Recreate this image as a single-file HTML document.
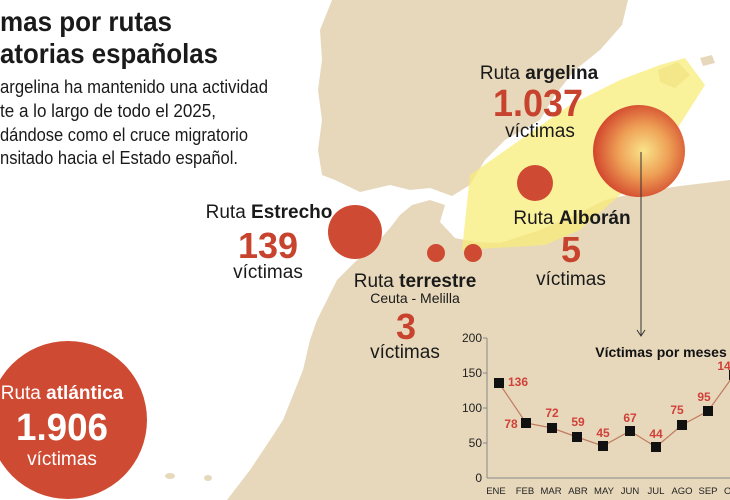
<!DOCTYPE html>
<html><head><meta charset="utf-8"><style>
html,body{margin:0;padding:0;background:#fff;}
svg{display:block;font-family:"Liberation Sans",sans-serif;}
</style></head><body>
<svg width="730" height="500" viewBox="0 0 730 500" xmlns="http://www.w3.org/2000/svg">
<defs>
<radialGradient id="g" cx="0.55" cy="0.5" r="0.55">
<stop offset="0" stop-color="#f9e48a"/><stop offset="0.5" stop-color="#eea056"/><stop offset="1" stop-color="#d2452c"/>
</radialGradient>
</defs>
<rect width="730" height="500" fill="#fff"/>
<!-- Spain -->
<path d="M332,0 L628,0 L622,25 L600,50 L575,70 L555,95 L540,120 L505,140 L485,160 L470,185 L452,196 L430,188 L410,190 L390,185 L360,192 L335,180 L322,175 L318,150 L322,120 L318,90 L322,60 L320,30 Z" fill="#e7d8bb"/>
<!-- Africa -->
<path d="M390,228 L400,215 L412,205 L430,200 L445,205 L440,222 L455,238 L475,242 L500,243 L540,230 L575,215 L605,200 L640,192 L680,186 L730,180 L730,500 L227,500 L250,470 L270,440 L283,420 L295,390 L303,370 L310,340 L317,320 L328,298 L337,280 L355,262 L375,245 Z" fill="#e7d8bb"/>
<ellipse cx="170" cy="476" rx="5" ry="3" fill="#e7d8bb"/>
<ellipse cx="208" cy="478" rx="4" ry="3" fill="#e7d8bb"/>
<!-- Balearic -->
<path d="M658,70 L678,62 L690,75 L675,88 L660,82 Z" fill="#e7d8bb"/>
<path d="M700,58 L712,55 L715,63 L703,66 Z" fill="#e7d8bb"/>
<!-- yellow route -->
<path d="M462,250 L470,175 L520,140 L570,105 L620,80 L660,65 L685,58 L705,85 L670,140 L620,195 L580,230 L545,245 Z" fill="#f8ec7a" opacity="0.75"/>
<!-- circles -->
<circle cx="355" cy="232" r="27" fill="#cf4a33"/>
<circle cx="436" cy="253" r="9" fill="#cf4a33"/>
<circle cx="473" cy="253" r="9" fill="#cf4a33"/>
<circle cx="535" cy="183" r="18" fill="#cf4a33"/>
<circle cx="639" cy="151" r="46" fill="url(#g)"/>
<line x1="641" y1="152" x2="641" y2="335" stroke="#333" stroke-width="1"/>
<path d="M637,330 L641,336 L645,330" fill="none" stroke="#333"/>
<circle cx="68" cy="420" r="79" fill="#cf4a33"/>
<!-- title -->
<text x="0" y="31" font-size="28" font-weight="bold" fill="#1a1a1a" textLength="172" lengthAdjust="spacingAndGlyphs">mas por rutas</text>
<text x="0" y="63" font-size="28" font-weight="bold" fill="#1a1a1a" textLength="218" lengthAdjust="spacingAndGlyphs">atorias españolas</text>
<g font-size="18" fill="#1a1a1a">
<text x="0" y="93" textLength="268" lengthAdjust="spacingAndGlyphs">argelina ha mantenido una actividad</text>
<text x="0" y="117" textLength="216" lengthAdjust="spacingAndGlyphs">te a lo largo de todo el 2025,</text>
<text x="0" y="141" textLength="248" lengthAdjust="spacingAndGlyphs">dándose como el cruce migratorio</text>
<text x="0" y="164" textLength="238" lengthAdjust="spacingAndGlyphs">nsitado hacia el Estado español.</text>
</g>
<!-- labels -->
<g fill="#1a1a1a" font-size="19" text-anchor="middle">
<text x="269" y="218">Ruta <tspan font-weight="bold">Estrecho</tspan></text>
<text x="268" y="278">víctimas</text>
<text x="415" y="287">Ruta <tspan font-weight="bold">terrestre</tspan></text>
<text x="415" y="303" font-size="14">Ceuta - Melilla</text>
<text x="405" y="358">víctimas</text>
<text x="572" y="224">Ruta <tspan font-weight="bold">Alborán</tspan></text>
<text x="571" y="285">víctimas</text>
<text x="539" y="79">Ruta <tspan font-weight="bold">argelina</tspan></text>
<text x="540" y="137">víctimas</text>
</g>
<g fill="#c8432e" font-weight="bold" text-anchor="middle" font-size="36">
<text x="268" y="258">139</text>
<text x="406" y="339">3</text>
<text x="571" y="262">5</text>
<text x="538" y="116" font-size="38" textLength="90" lengthAdjust="spacingAndGlyphs">1.037</text>
</g>
<g fill="#fff" text-anchor="middle">
<text x="62" y="399" font-size="19">Ruta <tspan font-weight="bold">atlántica</tspan></text>
<text x="62" y="440" font-size="38" font-weight="bold" textLength="92" lengthAdjust="spacingAndGlyphs">1.906</text>
<text x="62" y="465" font-size="19">víctimas</text>
</g>
<!-- chart -->
<g font-size="12" fill="#222" text-anchor="end">
<text x="482" y="342">200</text><text x="482" y="377">150</text><text x="482" y="412">100</text><text x="482" y="447">50</text><text x="482" y="482">0</text>
</g>
<line x1="487" y1="478" x2="730" y2="478" stroke="#888"/>
<line x1="487" y1="338" x2="487" y2="478" stroke="#888"/>
<g stroke="#888"><line x1="483" y1="338" x2="487" y2="338"/><line x1="483" y1="373" x2="487" y2="373"/><line x1="483" y1="408" x2="487" y2="408"/><line x1="483" y1="443" x2="487" y2="443"/></g>
<text x="661" y="357" font-size="14" font-weight="bold" fill="#111" text-anchor="middle">Víctimas por meses</text>
<polyline points="499,383 526,423 552,428 577,437 603,446 630,431 656,447 682,425 708,411 734,375" fill="none" stroke="#c07a60" stroke-width="1.2"/>
<g fill="#111">
<rect x="494" y="378" width="10" height="10"/><rect x="521" y="418" width="10" height="10"/><rect x="547" y="423" width="10" height="10"/><rect x="572" y="432" width="10" height="10"/><rect x="598" y="441" width="10" height="10"/><rect x="625" y="426" width="10" height="10"/><rect x="651" y="442" width="10" height="10"/><rect x="677" y="420" width="10" height="10"/><rect x="703" y="406" width="10" height="10"/><rect x="729" y="370" width="10" height="10"/>
</g>
<g fill="#d0413a" font-size="12" font-weight="bold" text-anchor="middle">
<text x="518" y="386">136</text><text x="511" y="428">78</text><text x="552" y="417">72</text><text x="578" y="426">59</text><text x="603" y="437">45</text><text x="630" y="422">67</text><text x="656" y="438">44</text><text x="677" y="414">75</text><text x="704" y="401">95</text><text x="724" y="370">14</text>
</g>
<g font-size="9.5" fill="#222" text-anchor="middle">
<text x="496" y="494">ENE</text><text x="525" y="494">FEB</text><text x="551" y="494">MAR</text><text x="578" y="494">ABR</text><text x="604" y="494">MAY</text><text x="630" y="494">JUN</text><text x="656" y="494">JUL</text><text x="682" y="494">AGO</text><text x="708" y="494">SEP</text><text x="734" y="494">OCT</text>
</g>
</svg>
</body></html>
